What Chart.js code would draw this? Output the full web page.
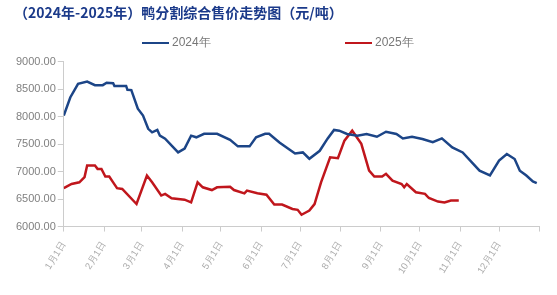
<!DOCTYPE html>
<html>
<head>
<meta charset="utf-8">
<script src="https://cdn.jsdelivr.net/npm/chart.js@4/dist/chart.umd.min.js"></script>
<style>
  html, body { margin: 0; padding: 0; background: #fff; }
  #wrap { width: 557px; height: 295px; position: relative; }
</style>
</head>
<body>
<div id="wrap"><canvas id="duck-chart"></canvas></div>
<script>
// day of year (0 = 1月1日) and price
const days2024 = [0, 5, 11, 18, 24, 30, 33, 38, 39, 48, 49, 52, 57, 61, 65, 68, 72, 74, 78, 88, 93, 98, 102, 108, 118, 128, 134, 143, 148, 155, 158, 166, 178, 184, 189, 197, 203, 208, 212, 218, 226, 233, 241, 248, 256, 261, 268, 276, 284, 291, 299, 307, 320, 328, 335, 341, 347, 351, 356, 361, 364];
const price2024 = [8020, 8350, 8600, 8640, 8575, 8575, 8620, 8610, 8560, 8560, 8490, 8485, 8145, 8020, 7780, 7715, 7760, 7655, 7600, 7350, 7420, 7655, 7625, 7690, 7690, 7580, 7460, 7460, 7625, 7690, 7690, 7530, 7330, 7350, 7235, 7380, 7600, 7760, 7745, 7685, 7655, 7685, 7635, 7727, 7685, 7605, 7635, 7595, 7535, 7605, 7440, 7350, 7018, 6930, 7200, 7320, 7230, 7018, 6930, 6820, 6790];

const days2025 = [0, 6, 12, 16, 18, 24, 26, 29, 32, 35, 38, 41, 45, 56, 64, 68, 75, 78, 83, 93, 98, 103, 107, 114, 118, 128, 131, 139, 141, 149, 156, 162, 168, 176, 180, 183, 189, 193, 198, 205, 211, 216, 222, 229, 235, 239, 245, 248, 253, 260, 262, 264, 271, 278, 281, 288, 293, 298, 304];
const price2025 = [6700, 6775, 6805, 6900, 7110, 7110, 7050, 7050, 6910, 6910, 6805, 6700, 6685, 6410, 6930, 6805, 6565, 6595, 6515, 6490, 6440, 6805, 6715, 6665, 6715, 6725, 6665, 6605, 6655, 6605, 6580, 6400, 6400, 6320, 6305, 6215, 6290, 6410, 6805, 7260, 7245, 7565, 7745, 7505, 7020, 6910, 6910, 6960, 6835, 6775, 6715, 6775, 6625, 6595, 6520, 6455, 6440, 6475, 6475];

const monthStarts = [0, 31, 60, 91, 121, 152, 182, 213, 244, 274, 305, 335, 366];
const monthLabels = ['1月1日', '2月1日', '3月1日', '4月1日', '5月1日', '6月1日', '7月1日', '8月1日', '9月1日', '10月1日', '11月1日', '12月1日', ''];
const yTicks = [6000, 6500, 7000, 7500, 8000, 8500, 9000];

const toPoints = (xs, ys) => xs.map((d, i) => ({ x: d, y: ys[i] }));

// legend with a wide gap between the two entries
const wideLegend = {
    id: 'wideLegend',
    afterDraw(chart) {
        const ctx = chart.ctx;
        const starts = [142, 345];
        ctx.save();
        ctx.font = '12px "Liberation Sans"';
        ctx.textBaseline = 'middle';
        chart.data.datasets.forEach((ds, i) => {
            const x = starts[i], y = 43;
            ctx.strokeStyle = ds.borderColor;
            ctx.lineWidth = 2;
            ctx.beginPath();
            ctx.moveTo(x, y);
            ctx.lineTo(x + 27, y);
            ctx.stroke();
            ctx.fillStyle = '#777';
            ctx.fillText(ds.label, x + 30, y);
        });
        ctx.restore();
    }
};

new Chart(document.getElementById('duck-chart'), {
    type: 'line',
    data: {
        datasets: [{
            label: '2024年',
            data: toPoints(days2024, price2024),
            borderColor: '#1c4587',
            borderWidth: 2.5,
            pointRadius: 0,
            tension: 0
        }, {
            label: '2025年',
            data: toPoints(days2025, price2025),
            borderColor: '#c0161c',
            borderWidth: 2.5,
            pointRadius: 0,
            tension: 0
        }]
    },
    plugins: [wideLegend],
    options: {
        responsive: true,
        maintainAspectRatio: false,
        animation: false,
        layout: { padding: { left: 14, right: 17, top: 0, bottom: 11 } },
        plugins: {
            title: {
                display: true,
                text: '（2024年-2025年）鸭分割综合售价走势图（元/吨）',
                align: 'start',
                color: '#1b3a8a',
                font: { family: '"Noto Sans CJK SC"', size: 14, weight: 'bold' },
                padding: { top: 4, bottom: 41 }
            },
            legend: { display: false },
            tooltip: { enabled: false }
        },
        scales: {
            x: {
                type: 'linear',
                min: 0,
                max: 366,
                afterBuildTicks: axis => {
                    axis.ticks = monthStarts.map(v => ({ value: v }));
                },
                grid: {
                    drawOnChartArea: false,
                    drawTicks: true,
                    tickLength: 5,
                    color: '#ccc'
                },
                border: { color: '#ccc' },
                ticks: {
                    autoSkip: false,
                    minRotation: 58,
                    maxRotation: 58,
                    padding: 8,
                    color: '#aaa',
                    font: { family: '"Liberation Sans"', size: 9.5 },
                    callback: (v, i) => monthLabels[i]
                }
            },
            y: {
                min: 6000,
                max: 9000,
                afterBuildTicks: axis => {
                    axis.ticks = yTicks.map(v => ({ value: v }));
                },
                grid: {
                    drawOnChartArea: false,
                    drawTicks: true,
                    tickLength: 6,
                    color: '#ccc'
                },
                border: { color: '#ccc' },
                ticks: {
                    color: '#808080',
                    padding: 2,
                    font: { family: '"Liberation Sans"', size: 11 },
                    callback: v => v.toFixed(2)
                }
            }
        }
    }
});
</script>
</body>
</html>
